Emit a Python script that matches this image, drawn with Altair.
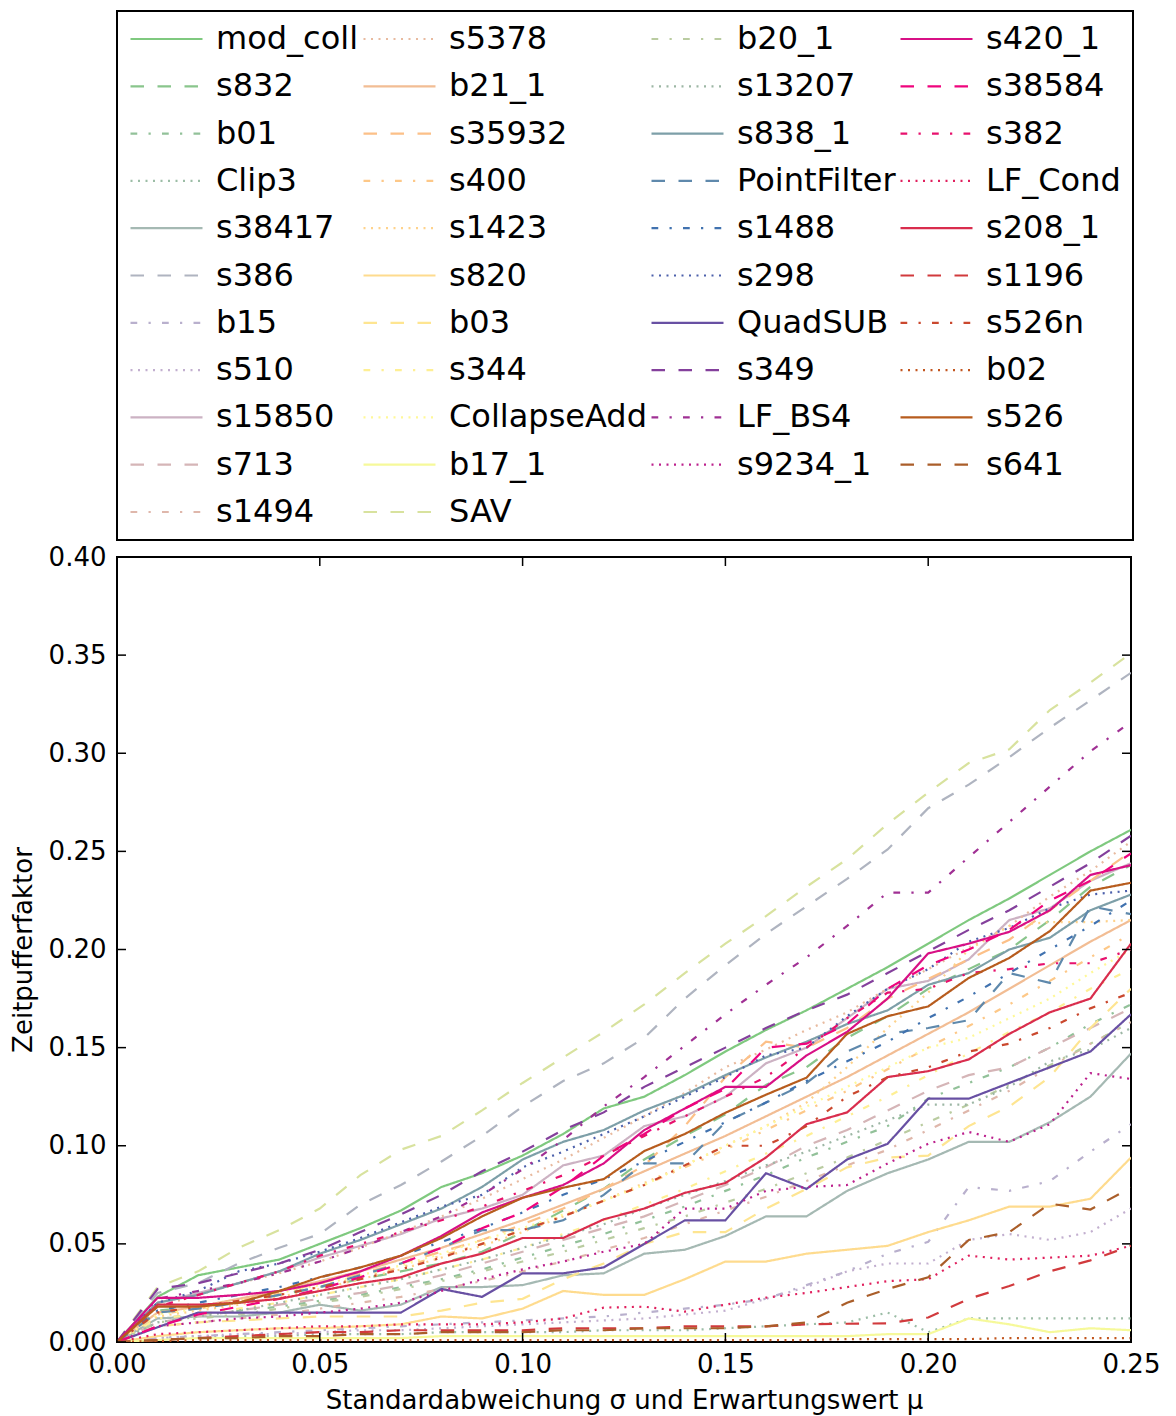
import altair as alt
import pandas as pd

# x positions: sigma / mu from 0.00 to 0.25
x_vals = [round(i * 0.01, 2) for i in range(26)]

names = [
    "mod_coll", "s832", "b01", "Clip3", "s38417", "s386", "b15", "s510", "s15850", "s713", "s1494",
    "s5378", "b21_1", "s35932", "s400", "s1423", "s820", "b03", "s344", "CollapseAdd", "b17_1", "SAV",
    "b20_1", "s13207", "s838_1", "PointFilter", "s1488", "s298", "QuadSUB", "s349", "LF_BS4", "s9234_1",
    "s420_1", "s38584", "s382", "LF_Cond", "s208_1", "s1196", "s526n", "b02", "s526", "s641",
]

mod_coll = [0, 0.023, 0.034, 0.038, 0.042, 0.050, 0.058, 0.067, 0.079, 0.086, 0.095, 0.106, 0.119, 0.125, 0.136, 0.148, 0.159, 0.169, 0.180, 0.191, 0.203, 0.215, 0.226, 0.238, 0.250, 0.261]
s832 = [0, 0.016, 0.018, 0.020, 0.024, 0.028, 0.032, 0.036, 0.040, 0.046, 0.056, 0.067, 0.078, 0.093, 0.105, 0.116, 0.131, 0.140, 0.155, 0.166, 0.180, 0.190, 0.200, 0.215, 0.232, 0.243]
b01 = [0, 0.012, 0.014, 0.016, 0.018, 0.021, 0.024, 0.028, 0.032, 0.037, 0.043, 0.049, 0.055, 0.062, 0.069, 0.077, 0.085, 0.094, 0.102, 0.110, 0.124, 0.132, 0.140, 0.150, 0.162, 0.172]
clip3 = [0, 0.002, 0.003, 0.003, 0.003, 0.004, 0.004, 0.004, 0.005, 0.005, 0.005, 0.005, 0.006, 0.006, 0.006, 0.007, 0.008, 0.009, 0.010, 0.015, 0.005, 0.012, 0.012, 0.012, 0.012, 0.012]
s38417 = [0, 0.012, 0.013, 0.013, 0.015, 0.019, 0.016, 0.019, 0.028, 0.028, 0.029, 0.034, 0.035, 0.045, 0.047, 0.054, 0.064, 0.064, 0.077, 0.086, 0.093, 0.102, 0.102, 0.112, 0.125, 0.147]
s386 = [0, 0.025, 0.030, 0.040, 0.048, 0.055, 0.070, 0.080, 0.092, 0.105, 0.120, 0.133, 0.142, 0.155, 0.175, 0.192, 0.208, 0.222, 0.236, 0.251, 0.272, 0.284, 0.298, 0.313, 0.327, 0.341]
b15 = [0, 0.002, 0.003, 0.004, 0.005, 0.006, 0.007, 0.008, 0.009, 0.010, 0.011, 0.012, 0.013, 0.015, 0.017, 0.019, 0.022, 0.029, 0.036, 0.045, 0.051, 0.079, 0.077, 0.082, 0.097, 0.111]
s510 = [0, 0.002, 0.003, 0.004, 0.004, 0.005, 0.006, 0.006, 0.007, 0.008, 0.009, 0.010, 0.011, 0.012, 0.014, 0.016, 0.022, 0.028, 0.036, 0.040, 0.040, 0.052, 0.055, 0.052, 0.056, 0.068]
s15850 = [0, 0.020, 0.025, 0.030, 0.036, 0.043, 0.049, 0.055, 0.063, 0.068, 0.075, 0.090, 0.095, 0.110, 0.115, 0.125, 0.142, 0.150, 0.165, 0.180, 0.184, 0.195, 0.215, 0.221, 0.235, 0.244]
s713 = [0, 0.010, 0.013, 0.016, 0.019, 0.022, 0.025, 0.029, 0.034, 0.040, 0.046, 0.052, 0.058, 0.064, 0.072, 0.080, 0.089, 0.100, 0.108, 0.118, 0.128, 0.136, 0.140, 0.150, 0.160, 0.170]
s1494 = [0, 0.008, 0.010, 0.012, 0.014, 0.017, 0.020, 0.023, 0.027, 0.031, 0.036, 0.041, 0.047, 0.053, 0.060, 0.067, 0.074, 0.082, 0.090, 0.098, 0.108, 0.118, 0.128, 0.140, 0.152, 0.163]
s5378 = [0, 0.018, 0.024, 0.030, 0.035, 0.041, 0.048, 0.056, 0.064, 0.073, 0.083, 0.093, 0.104, 0.115, 0.127, 0.140, 0.149, 0.159, 0.168, 0.180, 0.190, 0.201, 0.212, 0.227, 0.240, 0.255]
b21_1 = [0, 0.015, 0.018, 0.022, 0.026, 0.031, 0.036, 0.042, 0.048, 0.055, 0.062, 0.070, 0.078, 0.087, 0.096, 0.105, 0.115, 0.125, 0.135, 0.146, 0.157, 0.168, 0.180, 0.192, 0.204, 0.215]
s35932 = [0, 0.015, 0.018, 0.021, 0.025, 0.030, 0.035, 0.040, 0.046, 0.052, 0.060, 0.068, 0.078, 0.090, 0.110, 0.135, 0.153, 0.150, 0.160, 0.175, 0.185, 0.195, 0.205, 0.220, 0.235, 0.250]
s400 = [0, 0.014, 0.017, 0.020, 0.024, 0.028, 0.033, 0.038, 0.044, 0.050, 0.057, 0.064, 0.072, 0.080, 0.089, 0.098, 0.108, 0.118, 0.128, 0.139, 0.150, 0.161, 0.172, 0.184, 0.196, 0.208]
s1423 = [0, 0.013, 0.016, 0.019, 0.023, 0.027, 0.032, 0.037, 0.043, 0.049, 0.056, 0.064, 0.072, 0.081, 0.090, 0.100, 0.110, 0.122, 0.140, 0.160, 0.178, 0.200, 0.212, 0.214, 0.214, 0.215]
s820 = [0, 0.003, 0.005, 0.006, 0.007, 0.007, 0.008, 0.009, 0.013, 0.012, 0.017, 0.026, 0.024, 0.024, 0.032, 0.041, 0.041, 0.045, 0.047, 0.049, 0.056, 0.062, 0.069, 0.069, 0.073, 0.094]
b03 = [0, 0.008, 0.010, 0.011, 0.012, 0.013, 0.013, 0.013, 0.016, 0.020, 0.022, 0.032, 0.040, 0.050, 0.056, 0.056, 0.068, 0.078, 0.089, 0.094, 0.095, 0.110, 0.120, 0.135, 0.160, 0.180]
s344 = [0, 0.012, 0.014, 0.017, 0.020, 0.024, 0.028, 0.032, 0.037, 0.042, 0.048, 0.055, 0.062, 0.070, 0.078, 0.087, 0.096, 0.105, 0.115, 0.125, 0.136, 0.147, 0.158, 0.168, 0.180, 0.190]
collapse_add = [0, 0.014, 0.017, 0.021, 0.025, 0.029, 0.034, 0.039, 0.045, 0.052, 0.058, 0.065, 0.072, 0.080, 0.090, 0.100, 0.110, 0.120, 0.130, 0.140, 0.150, 0.155, 0.165, 0.175, 0.188, 0.200]
b17_1 = [0, 0.001, 0.002, 0.002, 0.002, 0.002, 0.002, 0.002, 0.003, 0.003, 0.003, 0.003, 0.003, 0.003, 0.003, 0.003, 0.003, 0.003, 0.003, 0.004, 0.004, 0.012, 0.009, 0.005, 0.007, 0.006]
sav = [0, 0.028, 0.036, 0.048, 0.057, 0.068, 0.085, 0.098, 0.105, 0.118, 0.132, 0.145, 0.158, 0.172, 0.188, 0.203, 0.217, 0.232, 0.246, 0.264, 0.280, 0.295, 0.302, 0.322, 0.336, 0.351]
b20_1 = [0, 0.010, 0.012, 0.014, 0.017, 0.020, 0.023, 0.027, 0.031, 0.036, 0.041, 0.046, 0.052, 0.058, 0.064, 0.071, 0.078, 0.086, 0.094, 0.103, 0.112, 0.121, 0.131, 0.141, 0.152, 0.163]
s13207 = [0, 0.010, 0.013, 0.016, 0.020, 0.024, 0.028, 0.032, 0.037, 0.042, 0.048, 0.054, 0.060, 0.068, 0.075, 0.082, 0.090, 0.097, 0.105, 0.113, 0.121, 0.121, 0.130, 0.143, 0.149, 0.160]
s838_1 = [0, 0.020, 0.024, 0.030, 0.036, 0.045, 0.052, 0.060, 0.068, 0.079, 0.093, 0.102, 0.108, 0.118, 0.126, 0.136, 0.145, 0.153, 0.162, 0.169, 0.182, 0.188, 0.200, 0.206, 0.220, 0.228]
point_filter = [0, 0.015, 0.017, 0.020, 0.024, 0.028, 0.034, 0.040, 0.048, 0.057, 0.057, 0.062, 0.075, 0.091, 0.091, 0.112, 0.122, 0.132, 0.148, 0.157, 0.160, 0.164, 0.188, 0.183, 0.222, 0.218]
s1488 = [0, 0.016, 0.020, 0.024, 0.028, 0.033, 0.038, 0.044, 0.051, 0.058, 0.066, 0.075, 0.083, 0.092, 0.102, 0.112, 0.122, 0.133, 0.143, 0.153, 0.165, 0.176, 0.188, 0.200, 0.212, 0.225]
s298 = [0, 0.020, 0.026, 0.036, 0.040, 0.046, 0.053, 0.061, 0.069, 0.075, 0.089, 0.097, 0.106, 0.115, 0.125, 0.135, 0.146, 0.150, 0.166, 0.180, 0.190, 0.204, 0.211, 0.221, 0.228, 0.230]
quad_sub = [0, 0.0075, 0.015, 0.015, 0.015, 0.015, 0.015, 0.015, 0.027, 0.023, 0.035, 0.035, 0.038, 0.050, 0.062, 0.062, 0.086, 0.078, 0.093, 0.101, 0.124, 0.124, 0.132, 0.140, 0.148, 0.167]
s349 = [0, 0.027, 0.030, 0.035, 0.040, 0.047, 0.056, 0.065, 0.075, 0.087, 0.097, 0.108, 0.117, 0.130, 0.140, 0.150, 0.160, 0.169, 0.177, 0.188, 0.199, 0.210, 0.220, 0.232, 0.244, 0.258]
lf_bs4 = [0, 0.022, 0.026, 0.030, 0.035, 0.041, 0.048, 0.056, 0.064, 0.075, 0.088, 0.103, 0.120, 0.135, 0.151, 0.167, 0.182, 0.196, 0.212, 0.229, 0.229, 0.247, 0.265, 0.283, 0.301, 0.316]
s9234_1 = [0, 0.008, 0.010, 0.012, 0.013, 0.015, 0.017, 0.020, 0.026, 0.032, 0.037, 0.041, 0.046, 0.050, 0.068, 0.068, 0.077, 0.079, 0.080, 0.091, 0.101, 0.107, 0.102, 0.111, 0.137, 0.134]
s420_1 = [0, 0.0225, 0.0225, 0.024, 0.026, 0.030, 0.036, 0.044, 0.054, 0.066, 0.0735, 0.080, 0.091, 0.108, 0.119, 0.130, 0.130, 0.146, 0.158, 0.175, 0.198, 0.203, 0.209, 0.220, 0.238, 0.243]
s38584 = [0, 0.008, 0.014, 0.018, 0.022, 0.027, 0.033, 0.040, 0.048, 0.058, 0.066, 0.079, 0.095, 0.106, 0.119, 0.129, 0.150, 0.152, 0.162, 0.180, 0.192, 0.200, 0.210, 0.225, 0.235, 0.249]
s382 = [0, 0.018, 0.024, 0.030, 0.036, 0.044, 0.050, 0.056, 0.062, 0.069, 0.077, 0.085, 0.095, 0.105, 0.115, 0.125, 0.135, 0.150, 0.165, 0.178, 0.180, 0.188, 0.190, 0.193, 0.193, 0.200]
lf_cond = [0, 0.004, 0.005, 0.006, 0.007, 0.008, 0.008, 0.009, 0.009, 0.009, 0.010, 0.012, 0.0175, 0.018, 0.0155, 0.019, 0.0226, 0.025, 0.028, 0.031, 0.032, 0.044, 0.042, 0.043, 0.044, 0.049]
s208_1 = [0, 0.019, 0.019, 0.020, 0.022, 0.026, 0.030, 0.033, 0.040, 0.045, 0.053, 0.053, 0.0625, 0.068, 0.076, 0.081, 0.094, 0.111, 0.117, 0.135, 0.138, 0.144, 0.157, 0.168, 0.175, 0.203]
s1196 = [0, 0.001, 0.002, 0.003, 0.004, 0.005, 0.005, 0.006, 0.006, 0.006, 0.006, 0.007, 0.007, 0.007, 0.008, 0.008, 0.008, 0.009, 0.0093, 0.0095, 0.0125, 0.022, 0.0285, 0.036, 0.0416, 0.049]
s526n = [0, 0.015, 0.018, 0.021, 0.024, 0.028, 0.032, 0.037, 0.043, 0.050, 0.057, 0.064, 0.072, 0.080, 0.090, 0.100, 0.100, 0.110, 0.125, 0.135, 0.140, 0.148, 0.152, 0.160, 0.170, 0.178]
b02 = [0, 0.0005, 0.001, 0.001, 0.001, 0.001, 0.001, 0.001, 0.001, 0.001, 0.001, 0.001, 0.001, 0.001, 0.001, 0.001, 0.001, 0.001, 0.0015, 0.0015, 0.0015, 0.0015, 0.002, 0.002, 0.002, 0.002]
s526 = [0, 0.018, 0.018, 0.020, 0.026, 0.033, 0.038, 0.044, 0.053, 0.064, 0.0735, 0.0786, 0.083, 0.0973, 0.106, 0.1168, 0.126, 0.1347, 0.157, 0.166, 0.171, 0.1855, 0.1957, 0.2094, 0.230, 0.234]
s641 = [0, 0.001, 0.002, 0.002, 0.003, 0.003, 0.004, 0.004, 0.005, 0.005, 0.005, 0.006, 0.006, 0.007, 0.007, 0.007, 0.008, 0.0099, 0.020, 0.027, 0.033, 0.052, 0.056, 0.0705, 0.0675, 0.0786]

values = [
    mod_coll, s832, b01, clip3, s38417, s386, b15, s510, s15850, s713, s1494,
    s5378, b21_1, s35932, s400, s1423, s820, b03, s344, collapse_add, b17_1, sav,
    b20_1, s13207, s838_1, point_filter, s1488, s298, quad_sub, s349, lf_bs4, s9234_1,
    s420_1, s38584, s382, lf_cond, s208_1, s1196, s526n, b02, s526, s641,
]

# Accent colormap, sampled with linear interpolation between its anchors
accent = ["#7fc97f", "#beaed4", "#fdc086", "#ffff99", "#386cb0", "#f0027f", "#bf5b17", "#666666"]


def hex_to_rgb(h):
    return [int(h[i:i + 2], 16) for i in (1, 3, 5)]


def accent_at(t):
    pos = t * (len(accent) - 1)
    k = min(int(pos), len(accent) - 2)
    f = pos - k
    a, b = hex_to_rgb(accent[k]), hex_to_rgb(accent[k + 1])
    c = [round(a[j] + (b[j] - a[j]) * f) for j in range(3)]
    return "#{:02x}{:02x}{:02x}".format(*c)


colors = [accent_at(i / 46) for i in range(len(names))]

# solid, dashed, dash-dot, dotted
dash_cycle = [[1, 0], [13.5, 13.5], [6.75, 11.25, 2.25, 11.25], [2, 5.5]]
dashes = [dash_cycle[i % 4] for i in range(len(names))]

rows = []
for order, (name, ys) in enumerate(zip(names, values)):
    for xv, yv in zip(x_vals, ys):
        rows.append({"bench": name, "x": xv, "y": yv, "k": order})
df = pd.DataFrame(rows)

# legend grid is read row by row; the columns hold 11, 11, 10 and 10 entries
col_lens = [11, 11, 10, 10]
col_starts = [0, 11, 22, 32]
legend_order = []
for r in range(11):
    for c in range(4):
        if r < col_lens[c]:
            legend_order.append(col_starts[c] + r)
dom = [names[i] for i in legend_order]
col_range = [colors[i] for i in legend_order]
dash_range = [dashes[i] for i in legend_order]

W, H = 1014, 785
FONT = "DejaVu Sans"

legend = alt.Legend(
    title=None, orient="none", legendX=0, legendY=-546, columns=4, direction="horizontal",
    symbolType="stroke", symbolSize=5184, symbolStrokeWidth=2.2, symbolLimit=100,
    labelFontSize=32, labelFont=FONT, labelColor="black", labelOffset=12,
    labelLimit=400, columnPadding=3, rowPadding=15.3, clipHeight=32,
    padding=12, strokeColor="black", fillColor="white", gridAlign="each",
)

x_ticks = [0, 0.05, 0.10, 0.15, 0.20, 0.25]
y_ticks = [0, 0.05, 0.10, 0.15, 0.20, 0.25, 0.30, 0.35, 0.40]

x_scale = alt.Scale(domain=[0, 0.25], nice=False, zero=False)
y_scale = alt.Scale(domain=[0, 0.40], nice=False, zero=False)

x_axis = alt.Axis(
    values=x_ticks, format=".2f", title="Standardabweichung σ und Erwartungswert μ",
    grid=False, ticks=False, domain=False, labelFontSize=26, labelFont=FONT,
    labelColor="black", labelPadding=9, labelFlush=False, labelOverlap=False,
    titleFontSize=26, titleFont=FONT, titleFontWeight="normal", titleColor="black",
    titlePadding=10)
y_axis = alt.Axis(
    values=y_ticks, format=".2f", title="Zeitpufferfaktor",
    grid=False, ticks=False, domain=False, labelFontSize=26, labelFont=FONT,
    labelColor="black", labelPadding=11, labelFlush=False, labelOverlap=False,
    titleFontSize=26, titleFont=FONT, titleFontWeight="normal", titleColor="black",
    titlePadding=12)

lines = alt.Chart(df).mark_line(strokeWidth=2.2, clip=True).encode(
    x=alt.X("x:Q", scale=x_scale, axis=x_axis),
    y=alt.Y("y:Q", scale=y_scale, axis=y_axis),
    color=alt.Color("bench:N", scale=alt.Scale(domain=dom, range=col_range), legend=legend),
    strokeDash=alt.StrokeDash("bench:N", scale=alt.Scale(domain=dom, range=dash_range), legend=legend),
    detail="k:Q",
)

xt = pd.DataFrame({"x": x_ticks})
yt = pd.DataFrame({"y": y_ticks})
TL = 9
tick_style = dict(color="black", strokeWidth=1.5)
bottom_ticks = alt.Chart(xt).mark_rule(**tick_style).encode(
    x=alt.X("x:Q", scale=x_scale, axis=x_axis), y=alt.value(H), y2=alt.value(H - TL))
top_ticks = alt.Chart(xt).mark_rule(**tick_style).encode(
    x=alt.X("x:Q", scale=x_scale, axis=x_axis), y=alt.value(0), y2=alt.value(TL))
left_ticks = alt.Chart(yt).mark_rule(**tick_style).encode(
    y=alt.Y("y:Q", scale=y_scale, axis=y_axis), x=alt.value(0), x2=alt.value(TL))
right_ticks = alt.Chart(yt).mark_rule(**tick_style).encode(
    y=alt.Y("y:Q", scale=y_scale, axis=y_axis), x=alt.value(W), x2=alt.value(W - TL))

chart = alt.layer(lines, bottom_ticks, top_ticks, left_ticks, right_ticks).properties(
    width=W, height=H,
    padding={"left": 10, "top": 10, "right": 10, "bottom": 10},
    background="white",
).configure_view(stroke="black", strokeWidth=2).configure_legend(strokeWidth=2)

chart.save("out.html", embed_options={"renderer": "svg", "actions": False})
